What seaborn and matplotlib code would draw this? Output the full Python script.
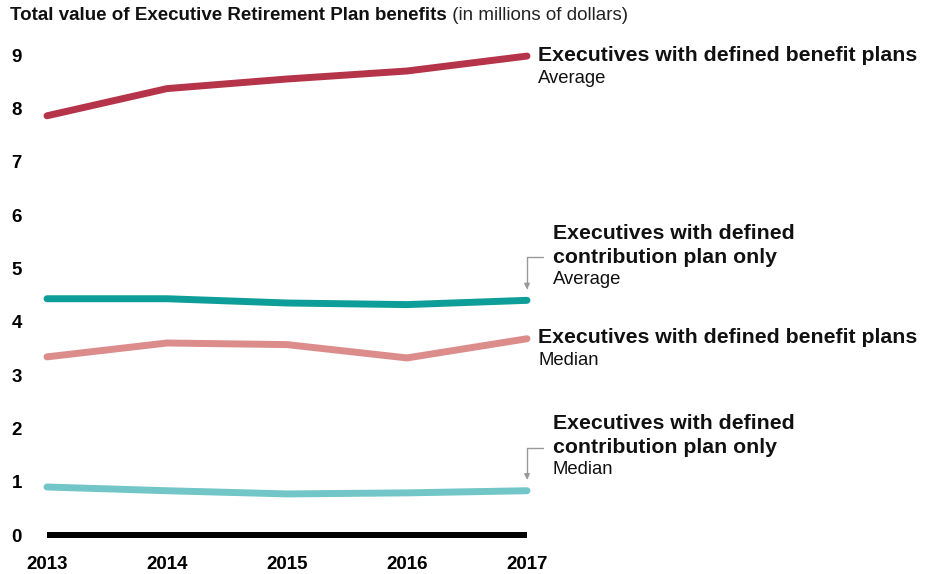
import pandas as pd
import matplotlib
matplotlib.use("Agg")
import matplotlib.pyplot as plt
import seaborn as sns

years = [2013, 2014, 2015, 2016, 2017]
db_avg = [7.86, 8.37, 8.55, 8.70, 8.98]
dc_avg = [4.43, 4.43, 4.35, 4.32, 4.40]
db_med = [3.34, 3.60, 3.57, 3.32, 3.68]
dc_med = [0.90, 0.83, 0.77, 0.79, 0.83]

series = ["db_avg", "dc_avg", "db_med", "dc_med"]
colors = ["#B5344A", "#0E9E9A", "#DB8C8B", "#72C6C8"]
titles = [
    "Executives with defined benefit plans",
    "Executives with defined\ncontribution plan only",
    "Executives with defined benefit plans",
    "Executives with defined\ncontribution plan only",
]
subtitles = ["Average", "Average", "Median", "Median"]

df = pd.DataFrame({"year": years, "db_avg": db_avg, "dc_avg": dc_avg,
                   "db_med": db_med, "dc_med": dc_med})
long = df.melt(id_vars="year", var_name="series", value_name="value")

sns.set_style("white")
plt.rcParams["font.family"] = ["Liberation Sans", "DejaVu Sans"]

fig = plt.figure(figsize=(9.35, 5.74), dpi=100)
ax = fig.add_axes([47 / 935, 39 / 574, 480 / 935, 480 / 574])

ax.axhline(0, color="black", lw=4.3, solid_capstyle="butt", zorder=1,
           clip_on=False)
sns.lineplot(data=long, x="year", y="value", hue="series", hue_order=series,
             palette=colors, lw=5, solid_capstyle="round", legend=False,
             ax=ax, clip_on=False, zorder=3)

ax.set_xlim(2013, 2017)
ax.set_ylim(0, 9)
ax.set_xticks(years)
ax.set_yticks(range(10))
ax.set_xlabel("")
ax.set_ylabel("")
for s in ax.spines.values():
    s.set_visible(False)
ax.tick_params(axis="both", length=0, labelsize=13.5)
ax.tick_params(axis="y", pad=18)
ax.tick_params(axis="x", pad=15)
for lab in ax.get_xticklabels() + ax.get_yticklabels():
    lab.set_fontweight("bold")
    lab.set_color("#000000")

px = 0.72  # points per pixel at 100 dpi
for key, title, sub in zip(series, titles, subtitles):
    last = df[key].iloc[-1]
    if "\n" not in title:
        ax.annotate(title, xy=(2017, last), xytext=(11 * px, 1 * px),
                    textcoords="offset points", ha="left", va="center",
                    fontsize=15.3, fontweight="bold", color="#111111")
        ax.annotate(sub, xy=(2017, last), xytext=(11 * px, -22 * px),
                    textcoords="offset points", ha="left", va="center",
                    fontsize=13.3, color="#111111")
    else:
        ax.annotate(title, xy=(2017, last), xytext=(26 * px, 55 * px),
                    textcoords="offset points", ha="left", va="center",
                    fontsize=15.3, fontweight="bold", color="#111111",
                    linespacing=1.3)
        ax.annotate(sub, xy=(2017, last), xytext=(26 * px, 21 * px),
                    textcoords="offset points", ha="left", va="center",
                    fontsize=13.3, color="#111111")
        ax.annotate("", xy=(2017, last), xytext=(16 * px, 43 * px),
                    textcoords="offset points",
                    arrowprops=dict(arrowstyle="-|>", color="#999999", lw=1,
                                    shrinkA=0, shrinkB=11 * px,
                                    mutation_scale=8,
                                    connectionstyle="angle,angleA=180,angleB=90,rad=0"))

t1 = fig.text(10 / 935, 1 - 16 / 574, "Total value of Executive Retirement Plan benefits",
              fontsize=13.5, fontweight="bold", color="#111111", va="center")
ax.annotate(" (in millions of dollars)", xy=(1, 0.5), xycoords=t1,
            va="center", fontsize=13.5, color="#222222")

fig.savefig("out.png", dpi=100)
